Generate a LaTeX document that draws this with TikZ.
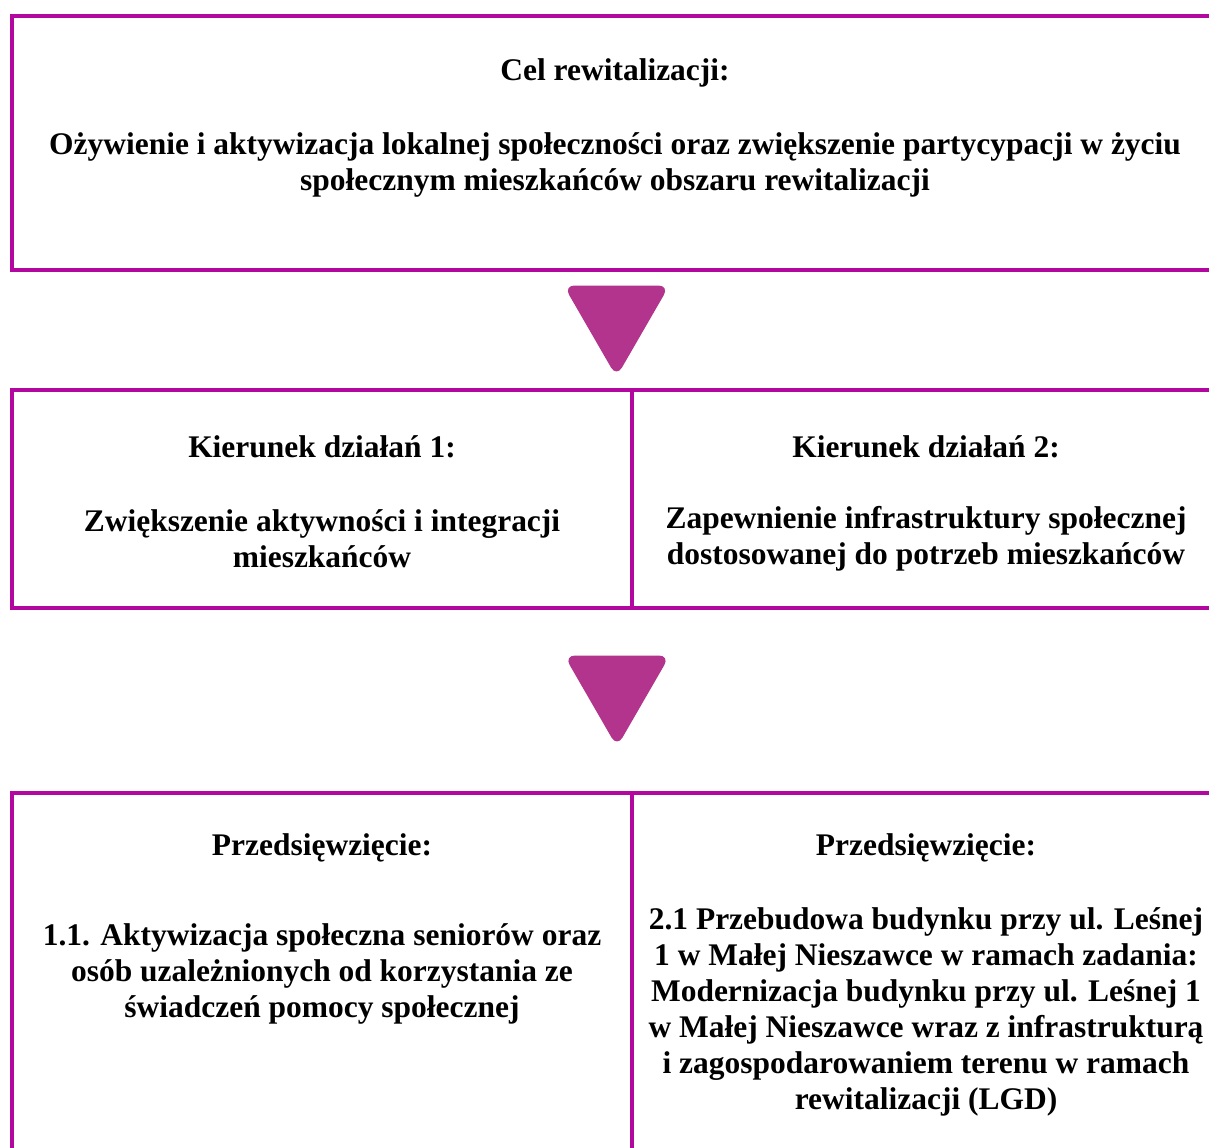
\documentclass[tikz,border=0pt]{standalone}
\usepackage{fontspec}
\setmainfont{Liberation Serif}
\usepackage{tikz}
\usetikzlibrary{
    shapes.geometric    % tikz's library for regular polygon
}
\definecolor{frame}{RGB}{178,8,160}
\definecolor{pointer}{RGB}{178,52,140}
\newcommand{\px}{0.75pt}
\tikzset{
    frame line/.style={draw=frame, line width=4*\px},
    title text/.style={align=center, inner sep=0pt, font=\fontsize{23.6}{27}\selectfont\bfseries},
    body text/.style={align=center, inner sep=0pt, font=\fontsize{23.6}{27}\selectfont\bfseries},
    down pointer/.style={regular polygon, regular polygon sides=3, shape border rotate=180,
        minimum size=122*\px, inner sep=0pt, fill=pointer, rounded corners=11*\px}
}

\begin{document}
\begin{tikzpicture}[x=\px, y=-\px]
        \useasboundingbox (0,0) rectangle (1209,1147);
        \clip (0,0) rectangle (1209,1147);

        % goal
        \draw[frame line] (11.5,16) rectangle (1222,270);
        \node[title text] (goal title) at (615,73) {Cel rewitalizacji:};
        \node[body text] (goal) at (615,165) {O\.zywienie i aktywizacja lokalnej spo\l{}eczno\'sci oraz zwi\k{e}kszenie partycypacji w \.zyciu\\ spo\l{}ecznym mieszka\'nc\'ow obszaru rewitalizacji};

        \node[down pointer] (p1) at (616.5,316) {};

        % directions
        \draw[frame line] (11.5,390) rectangle (1222,608);
        \draw[frame line] (632,390) -- (632,608);
        \node[title text] (dir1 title) at (322,447) {Kierunek dzia\l{}a\'n 1:};
        \node[body text] (dir1) at (322,539) {Zwi\k{e}kszenie aktywno\'sci i integracji\\ mieszka\'nc\'ow};
        \node[title text] (dir2 title) at (926,447) {Kierunek dzia\l{}a\'n 2:};
        \node[body text] (dir2) at (926,539) {Zapewnienie infrastruktury spo\l{}ecznej\\ dostosowanej do potrzeb mieszka\'nc\'ow};

        \node[down pointer] (p2) at (617,686) {};

        % projects
        \draw[frame line] (11.5,793) rectangle (1222,1170);
        \draw[frame line] (632,793) -- (632,1170);
        \node[title text] (proj1 title) at (322,848) {Przedsi\k{e}wzi\k{e}cie:};
        \node[body text] (proj1) at (322,974) {1.1. Aktywizacja spo\l{}eczna senior\'ow oraz\\ os\'ob uzale\.znionych od korzystania ze\\ \'swiadcze\'n pomocy spo\l{}ecznej};
        \node[title text] (proj2 title) at (926,848) {Przedsi\k{e}wzi\k{e}cie:};
        \node[body text] (proj2) at (926,1012) {2.1 Przebudowa budynku przy ul. Le\'snej\\ 1 w Ma\l{}ej Nieszawce w ramach zadania:\\ Modernizacja budynku przy ul. Le\'snej 1\\ w Ma\l{}ej Nieszawce wraz z infrastruktur\k{a}\\ i zagospodarowaniem terenu w ramach\\ rewitalizacji (LGD)};
\end{tikzpicture}
\end{document}
